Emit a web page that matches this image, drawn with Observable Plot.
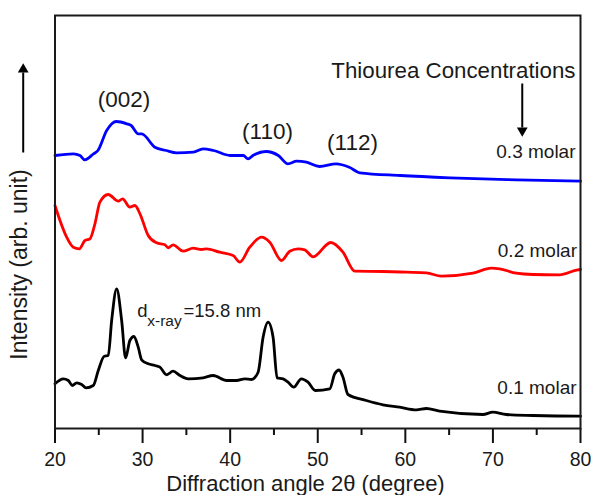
<!DOCTYPE html>
<html>
<head>
<meta charset="utf-8">
<script src="https://cdn.jsdelivr.net/npm/d3@7"></script>
<script src="https://cdn.jsdelivr.net/npm/@observablehq/plot@0.6"></script>
<style>
  html, body { margin: 0; padding: 0; background: #fff; }
  #chart { width: 591px; height: 495px; }
  svg { font-family: "Liberation Sans", Arial, sans-serif; }
</style>
</head>
<body>
<div id="chart"></div>
<script>
// ---- data (2θ in degrees, intensity in arbitrary units) ----
const angle03 = [20.0,22.1,22.85,23.4,24.4,24.9,25.9,27.0,28.2,28.7,29.5,29.9,31.4,32.7,33.9,35.8,36.9,38.1,40.0,41.5,42.05,42.6,44.1,45.5,46.6,47.6,48.7,50.2,52.1,53.6,54.8,59.4,65.1,72.7,80];
const int03   = [273,274.7,273,268.7,274.7,278,298,307,304.7,303,294.7,294.7,281.3,278,275.7,276.3,279.7,278,273,273,269.7,273,277,273,264.7,267.3,266.3,262,264.7,261.3,255.7,253,250.7,248.7,247.3];

const angle02 = [20.0,20.57,21.33,22.09,22.77,23.42,23.99,24.56,25.13,26.08,27.22,27.72,28.55,29.13,29.70,30.64,31.60,32.55,32.92,33.49,34.63,35.78,36.73,37.30,38.82,40.34,41.10,42.24,43.58,44.52,45.86,46.80,47.75,48.52,49.46,51.48,52.88,54.22,57.45,60.12,62.40,64.11,67.71,69.81,70.76,72.66,74.56,77.60,79.69,80];
const int02   = [223,208,191.3,181.3,179.7,188,189.7,204.7,226.3,234,227.3,229.7,221.3,223,214.7,193,185.7,183.7,180.7,183.7,177.3,180.3,179,179.7,176.3,173,166.3,181.3,191.3,186.3,168,177.3,179.7,178.7,171.7,186,176.3,157.3,157,156.3,155.7,152.3,155.3,160.3,159.7,155.3,154,153.7,158.7,159];

const angle01 = [20.0,20.95,21.52,21.97,22.48,23.05,23.54,24.37,24.94,25.62,26.08,26.47,27.04,27.61,28.06,28.55,29.01,29.50,29.89,30.64,31.41,31.98,32.74,33.49,34.26,35.20,36.92,38.06,39.59,40.73,41.67,42.44,43.19,43.76,44.33,44.90,45.36,46.04,46.61,47.26,48.12,48.89,49.71,51.37,51.94,52.43,52.88,53.45,55.55,57.45,59.35,61.26,62.40,63.92,68.85,69.99,71.52,74.56,79.69,80];
const int01   = [44.7,49.7,48,43,45.7,44,40.7,43,58,72.3,73,108,139.7,108,70.7,88,92,81.3,68.7,64.7,63,61.3,53.7,57.3,53,49.7,50.7,53,48,48,49.7,49,56.3,91.3,106.3,91.3,50.7,49.7,46.3,41.3,49.7,46.3,38,39.7,54.7,58.5,51.3,34,28,23.7,21.3,18.7,20,17.3,14,16.3,14,13,12.3,12.3];

const seriesNames  = ["0.3 molar", "0.2 molar", "0.1 molar"];
const seriesColors = ["#0000ff", "#ff0000", "#000000"];
const majorTicks = [20, 30, 40, 50, 60, 70, 80];
const minorTicks = [25, 35, 45, 55, 65, 75];

// annotation labels
const peakLabels = ["(002)", "(110)", "(112)"];
const peakX = [27.88, 44.26, 53.97];
const peakY = [322, 290, 279];
const molarX = [79.43, 79.6, 79.55];
const molarY = [271, 172, 34.5];

// ---- build tables ----
const rows = [];
[[angle03, int03], [angle02, int02], [angle01, int01]].forEach(([xs, ys], k) => {
  xs.forEach((x, i) => rows.push({series: seriesNames[k], angle: x, intensity: ys[i]}));
});
const peaks = peakLabels.map((t, i) => ({t, x: peakX[i], y: peakY[i]}));
const molars = seriesNames.map((t, i) => ({t, x: molarX[i], y: molarY[i]}));

const textColor = "#1a1a1a";

const plot = Plot.plot({
  width: 591,
  height: 495,
  marginLeft: 54.5,
  marginRight: 11,
  marginTop: 15,
  marginBottom: 67,
  style: {fontFamily: "Liberation Sans, Arial, sans-serif", color: textColor, background: "#fff"},
  x: {domain: [20, 80]},
  y: {domain: [0, 413], axis: null},
  color: {domain: seriesNames, range: seriesColors},
  marks: [
    Plot.axisX(majorTicks, {tickSize: 15, tickPadding: 9, fontSize: 19.5, strokeWidth: 2, stroke: "#111", label: null, tickFormat: d => String(d)}),
    Plot.axisX(minorTicks, {tickSize: 7, strokeWidth: 2, stroke: "#111", label: null, tickFormat: () => ""}),
    Plot.line(rows, {x: "angle", y: "intensity", z: "series", stroke: "series", strokeWidth: 2.8, curve: "monotone-x"}),
    Plot.frame({stroke: "#1a1a1a", strokeWidth: 2}),
    // peak labels
    Plot.text(peaks, {x: "x", y: "y", text: "t", textAnchor: "middle", lineAnchor: "bottom", fontSize: 22.5, fill: textColor}),
    // molar labels
    Plot.text(molars, {x: "x", y: "y", text: "t", textAnchor: "end", lineAnchor: "bottom", fontSize: 19, fill: textColor}),
    // Thiourea concentrations + arrow
    Plot.text(["Thiourea Concentrations"], {x: 79.43, y: 351, text: d => d, textAnchor: "end", lineAnchor: "bottom", fontSize: 22.3, fill: textColor}),
    Plot.link([0], {x1: 73.35, x2: 73.35, y1: 345, y2: 301, stroke: "#000", strokeWidth: 2}),
    Plot.dot([0], {x: 73.35, y: 298, symbol: "triangle", r: 4, fill: "#000", rotate: 180}),
    // d x-ray annotation
    Plot.text(["d"], {x: 29.39, y: 111.3, text: d => d, textAnchor: "start", lineAnchor: "bottom", fontSize: 18.5, fill: textColor}),
    Plot.text(["x-ray"], {x: 30.53, y: 103, text: d => d, textAnchor: "start", lineAnchor: "bottom", fontSize: 15.5, fill: textColor}),
    Plot.text(["=15.8 nm"], {x: 34.67, y: 111.3, text: d => d, textAnchor: "start", lineAnchor: "bottom", fontSize: 18.5, fill: textColor}),
    // y label + arrow
    Plot.text(["Intensity (arb. unit)"], {x: 16.0, y: 164, text: d => d, rotate: -90, textAnchor: "middle", fontSize: 23, fill: textColor}),
    Plot.link([0], {x1: 16.37, x2: 16.37, y1: 276, y2: 356, stroke: "#000", strokeWidth: 2}),
    Plot.dot([0], {x: 16.37, y: 359, symbol: "triangle", r: 4, fill: "#000"}),
    // x title
    Plot.text(["Diffraction angle 2θ (degree)"], {x: 48.6, frameAnchor: "bottom", dy: 62, text: d => d, textAnchor: "middle", lineAnchor: "bottom", fontSize: 22, fill: textColor})
  ]
});
document.getElementById("chart").appendChild(plot);
</script>
</body>
</html>
